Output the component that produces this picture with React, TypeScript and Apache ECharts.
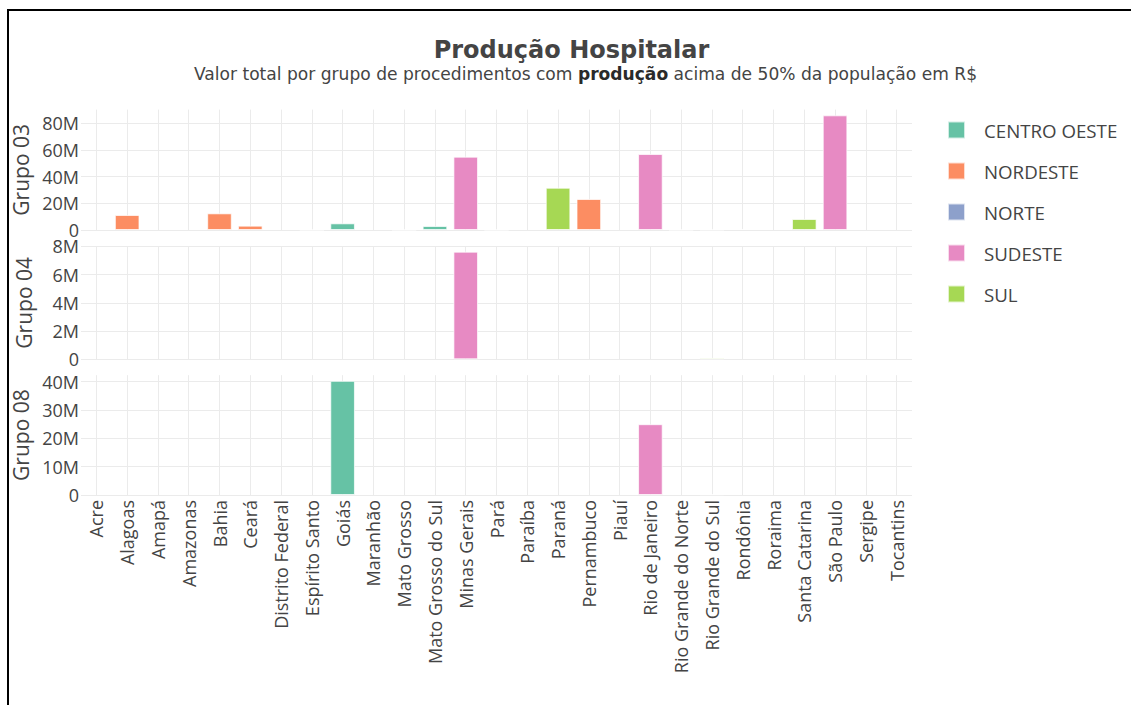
import React, { useEffect, useRef } from "react";
import * as echarts from "echarts";

const states = [
  "Acre", "Alagoas", "Amapá", "Amazonas", "Bahia", "Ceará", "Distrito Federal",
  "Espírito Santo", "Goiás", "Maranhão", "Mato Grosso", "Mato Grosso do Sul",
  "Minas Gerais", "Pará", "Paraíba", "Paraná", "Pernambuco", "Piauí",
  "Rio de Janeiro", "Rio Grande do Norte", "Rio Grande do Sul", "Rondônia",
  "Roraima", "Santa Catarina", "São Paulo", "Sergipe", "Tocantins",
];

const stateRegion = [
  "NORTE", "NORDESTE", "NORTE", "NORTE", "NORDESTE", "NORDESTE", "CENTRO OESTE",
  "SUDESTE", "CENTRO OESTE", "NORDESTE", "CENTRO OESTE", "CENTRO OESTE",
  "SUDESTE", "NORTE", "NORDESTE", "SUL", "NORDESTE", "NORDESTE",
  "SUDESTE", "NORDESTE", "SUL", "NORTE",
  "NORTE", "SUL", "SUDESTE", "NORDESTE", "NORTE",
];

const regions = ["CENTRO OESTE", "NORDESTE", "NORTE", "SUDESTE", "SUL"];
const regionColors = ["#66c2a5", "#fc8d62", "#8da0cb", "#e78ac3", "#a6d854"];

// values in R$ (null = no production above threshold)
const grupo03 = [
  null, 11.25e6, null, null, 12.5e6, 3.25e6, null,
  0.2e6, 5.0e6, null, 0.2e6, 3.0e6,
  55.0e6, 0.2e6, null, 31.7e6, 23.25e6, null,
  57.0e6, 0.2e6, 0.3e6, 0.75e6,
  null, 8.25e6, 86.0e6, null, null,
];
const grupo04 = [
  null, null, null, null, null, null, null,
  null, null, null, null, null,
  7.63e6, null, null, null, null, null,
  null, null, 0.1e6, null,
  null, null, null, null, null,
];
const grupo08 = [
  null, null, null, null, null, null, null,
  null, 40.3e6, null, null, null,
  null, null, null, null, null, null,
  25.0e6, null, 0.25e6, null,
  null, null, null, null, null,
];

const panels = [
  { name: "Grupo 03", values: grupo03, max: 90.3e6, interval: 20e6 },
  { name: "Grupo 04", values: grupo04, max: 8.01e6, interval: 2e6 },
  { name: "Grupo 08", values: grupo08, max: 42.3e6, interval: 10e6 },
];

const gridTops = [109.6, 246.3, 375.2];
const gridBottoms = [230, 359.3, 495];

const TEXT = "#444";
const GRID = "#ebebeb";
const FONT = "'Open Sans', sans-serif";

export default function App() {
  const ref = useRef<HTMLDivElement>(null);

  useEffect(() => {
    if (!ref.current) return;
    const chart = echarts.init(ref.current, null, { renderer: "svg" });

    const grids = panels.map((_, i) => ({
      left: 81,
      width: 831,
      top: gridTops[i],
      height: gridBottoms[i] - gridTops[i],
      containLabel: false,
    }));

    const xAxes = panels.map((_, i) => ({
      type: "category",
      gridIndex: i,
      data: states,
      boundaryGap: true,
      axisLine: { show: false },
      axisTick: { show: false },
      splitLine: { show: true, alignWithLabel: true, lineStyle: { color: GRID, width: 1 } },
      axisLabel: {
        show: i === panels.length - 1,
        rotate: 90,
        interval: 0,
        margin: 5,
        color: TEXT,
        fontFamily: FONT,
        fontSize: 18,
      },
    }));

    const yAxes = panels.map((p, i) => ({
      type: "value",
      gridIndex: i,
      min: 0,
      max: p.max,
      interval: p.interval,
      name: p.name,
      nameLocation: "middle",
      nameRotate: 90,
      nameGap: 47,
      nameTextStyle: { color: TEXT, fontFamily: FONT, fontSize: 21 },
      axisLine: { show: false },
      axisTick: { show: false },
      splitLine: { show: true, showMaxLine: false, lineStyle: { color: GRID, width: 1 } },
      axisLabel: {
        showMaxLabel: false,
        margin: 2,
        color: TEXT,
        fontFamily: FONT,
        fontSize: 18,
        formatter: (v: number) => (v === 0 ? "0" : `${Math.round(v / 1e6)}M`),
      },
    }));

    const series: any[] = [];
    panels.forEach((p, gi) => {
      regions.forEach((r, ri) => {
        series.push({
          type: "bar",
          name: r,
          xAxisIndex: gi,
          yAxisIndex: gi,
          stack: "g" + gi,
          barWidth: "80%",
          itemStyle: {
            color: regionColors[ri],
            borderColor: "rgba(255,255,255,0.7)",
            borderWidth: 1,
          },
          data: p.values.map((v, k) => (stateRegion[k] === r && v != null ? v : null)),
        });
      });
    });

    chart.setOption({
      animation: false,
      backgroundColor: "#fff",
      grid: grids,
      xAxis: xAxes,
      yAxis: yAxes,
      series,
      legend: {
        orient: "vertical",
        left: 947,
        top: 120.5,
        padding: 0,
        icon: "rect",
        itemWidth: 17,
        itemHeight: 17,
        itemGap: 22,
        data: regions,
        textStyle: {
          color: TEXT,
          fontFamily: FONT,
          fontSize: 18.7,
          lineHeight: 17,
          height: 17,
          padding: [0, 0, 0, 14],
        },
      },
      graphic: [
        {
          type: "line",
          silent: true,
          shape: { x1: 7, y1: 10, x2: 1131, y2: 10 },
          style: { stroke: "#000", lineWidth: 2 },
        },
        {
          type: "line",
          silent: true,
          shape: { x1: 8, y1: 9, x2: 8, y2: 705 },
          style: { stroke: "#000", lineWidth: 2 },
        },
        {
          type: "text",
          x: 571.5,
          y: 50,
          style: {
            text: "Produção Hospitalar",
            fill: TEXT,
            font: "bold 24px 'DejaVu Sans', sans-serif",
            align: "center",
            verticalAlign: "middle",
          },
        },
        {
          type: "text",
          x: 585.5,
          y: 74,
          style: {
            text: "{n|Valor total por grupo de procedimentos com }{b|produção}{n| acima de 50% da população em R$}",
            align: "center",
            verticalAlign: "middle",
            rich: {
              n: { fill: TEXT, fontFamily: "'DejaVu Sans', sans-serif", fontSize: 17.1 },
              b: { fill: "#2a2a2a", fontFamily: "'DejaVu Sans', sans-serif", fontSize: 17.1, fontWeight: "bold" },
            },
          },
        },
      ],
    });

    return () => chart.dispose();
  }, []);

  return (
    <div style={{ position: "fixed", left: 0, top: 0, width: 1131, height: 705, background: "#fff", overflow: "hidden" }}>
      <div ref={ref} style={{ position: "absolute", left: 0, top: 0, width: 1131, height: 705 }} />
    </div>
  );
}
